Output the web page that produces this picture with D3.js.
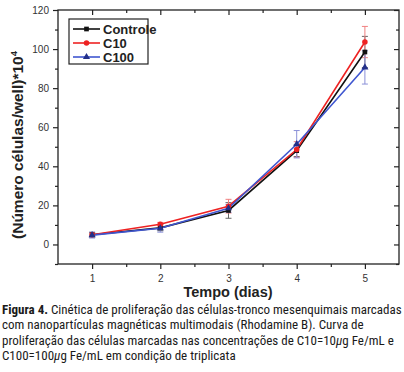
<!DOCTYPE html>
<html><head><meta charset="utf-8">
<script src="https://cdn.jsdelivr.net/npm/d3@7"></script>
<style>
body{margin:0;background:#fff;}
svg{display:block;}
</style></head>
<body>
<svg id="c" width="404" height="372"></svg>
<script>
const days = [1, 2, 3, 4, 5];
const seriesNames = ["Controle", "C10", "C100"];
const controle = [5.0, 8.5, 17.4, 48.0, 98.5];
const controleErr = [1.2, 1.5, 4.0, 3.0, 8.0];
const c10 = [5.0, 10.3, 19.6, 48.6, 103.6];
const c10Err = [1.0, 1.0, 3.5, 4.0, 8.0];
const c100 = [4.8, 8.3, 18.5, 51.3, 90.6];
const c100Err = [1.5, 2.0, 2.0, 7.0, 8.5];
const yTicks = [0, 20, 40, 60, 80, 100, 120];
const xTicks = [1, 2, 3, 4, 5];

const svg = d3.select("#c");
const L = 58, R = 399, T = 10, B = 264;
const x = d3.scaleLinear().domain([0.5, 5.5]).range([L, R]);
const y = d3.scaleLinear().domain([-10, 120]).range([B, T]);
const axisFont = "Liberation Sans, Arial, sans-serif";

// frame
svg.append("rect").attr("x", L).attr("y", T).attr("width", R - L).attr("height", B - T)
  .attr("fill", "none").attr("stroke", "#222").attr("stroke-width", 1.3);

// bottom axis
svg.append("g").attr("transform", `translate(0,${B})`)
  .call(d3.axisBottom(x).tickValues(xTicks).tickSize(5).tickPadding(6).tickFormat(d3.format("d")));
svg.append("g").attr("transform", `translate(0,${B})`)
  .call(d3.axisBottom(x).tickValues([1.5, 2.5, 3.5, 4.5]).tickSize(3).tickFormat(""));
// top mirror (inward)
svg.append("g").attr("transform", `translate(0,${T})`)
  .call(d3.axisBottom(x).tickValues(xTicks).tickSize(5).tickFormat(""));
svg.append("g").attr("transform", `translate(0,${T})`)
  .call(d3.axisBottom(x).tickValues([1.5, 2.5, 3.5, 4.5]).tickSize(3).tickFormat(""));
// left axis
svg.append("g").attr("transform", `translate(${L},0)`)
  .call(d3.axisLeft(y).tickValues(yTicks).tickSize(5).tickPadding(4));
svg.append("g").attr("transform", `translate(${L},0)`)
  .call(d3.axisLeft(y).tickValues([-10, 10, 30, 50, 70, 90, 110]).tickSize(3).tickFormat(""));
// right mirror (inward)
svg.append("g").attr("transform", `translate(${R},0)`)
  .call(d3.axisLeft(y).tickValues(yTicks).tickSize(5).tickFormat(""));
svg.append("g").attr("transform", `translate(${R},0)`)
  .call(d3.axisLeft(y).tickValues([-10, 10, 30, 50, 70, 90, 110]).tickSize(3).tickFormat(""));

svg.selectAll(".domain").remove();
svg.selectAll(".tick line").attr("stroke", "#222").attr("stroke-width", 1.2);
svg.selectAll(".tick text").attr("fill", "#333").style("font-family", axisFont).style("font-size", "10px");

// axis titles
svg.append("text").attr("x", 228).attr("y", 297).attr("text-anchor", "middle")
  .style("font-family", axisFont).style("font-size", "14.5px").style("font-weight", "bold")
  .attr("fill", "#222").text("Tempo (dias)");
const yt = svg.append("text").attr("transform", `translate(23,145) rotate(-90)`).attr("text-anchor", "middle")
  .style("font-family", axisFont).style("font-size", "15.5px").style("font-weight", "bold").attr("fill", "#222");
yt.append("tspan").text("(Número células/well)*10");
yt.append("tspan").attr("dy", -6).style("font-size", "9.5px").text("4");

// series
const series = [
  {name: seriesNames[0], v: controle, e: controleErr, color: "#111111", errColor: "#666", sym: d3.symbolSquare, symSize: 22},
  {name: seriesNames[1], v: c10, e: c10Err, color: "#ee2222", errColor: "#f08080", sym: d3.symbolCircle, symSize: 24},
  {name: seriesNames[2], v: c100, e: c100Err, color: "#3f56d0", errColor: "#8a90d8", sym: d3.symbolTriangle, symSize: 22, markColor: "#23308a"}
];
const line = d3.line().x((d, i) => x(days[i])).y(d => y(d));
series.forEach(s => {
  const g = svg.append("g");
  s.v.forEach((v, i) => {
    const cx = x(days[i]);
    g.append("line").attr("x1", cx).attr("x2", cx).attr("y1", y(v - s.e[i])).attr("y2", y(v + s.e[i]))
      .attr("stroke", s.errColor).attr("stroke-width", 1);
    [v - s.e[i], v + s.e[i]].forEach(w => g.append("line").attr("x1", cx - 3).attr("x2", cx + 3)
      .attr("y1", y(w)).attr("y2", y(w)).attr("stroke", s.errColor).attr("stroke-width", 1));
  });
});
series.forEach(s => {
  svg.append("path").datum(s.v).attr("d", line).attr("fill", "none")
    .attr("stroke", s.color).attr("stroke-width", 1.6);
});
series.forEach(s => {
  svg.append("g").selectAll("path").data(s.v).join("path")
    .attr("transform", (d, i) => `translate(${x(days[i])},${y(d)})`)
    .attr("d", d3.symbol().type(s.sym).size(s.symSize))
    .attr("fill", s.markColor || s.color);
});

// legend
const lg = svg.append("g");
lg.append("rect").attr("x", 69).attr("y", 19).attr("width", 79).attr("height", 45)
  .attr("fill", "#fff").attr("stroke", "#222").attr("stroke-width", 1.2);
series.forEach((s, i) => {
  const ly = 29 + i * 14;
  lg.append("line").attr("x1", 73).attr("x2", 100).attr("y1", ly).attr("y2", ly)
    .attr("stroke", s.color).attr("stroke-width", 1.6);
  lg.append("path").attr("transform", `translate(86.5,${ly})`)
    .attr("d", d3.symbol().type(s.sym).size(s.symSize)).attr("fill", s.markColor || s.color);
  lg.append("text").attr("x", 103).attr("y", ly + 4.5).style("font-family", axisFont)
    .style("font-size", "13px").style("font-weight", "bold").attr("fill", "#222").text(s.name);
});

// caption
const capFont = "Liberation Sans Narrow, Arial Narrow, Roboto Condensed, sans-serif";
const capLines = [
  [["Figura 4.", true], [" Cinética de proliferação das células-tronco mesenquimais marcadas", false]],
  [["com nanopartículas magnéticas multimodais (Rhodamine B). Curva de", false]],
  [["proliferação das células marcadas nas concentrações de C10=10", false], ["μ", false, true], ["g Fe/mL e", false]],
  [["C100=100", false], ["μ", false, true], ["g Fe/mL em condição de triplicata", false]]
];
capLines.forEach((ln, i) => {
  const t = svg.append("text").attr("x", 2).attr("y", 314 + i * 15.3)
    .style("font-family", capFont).style("font-size", "13px").attr("fill", "#1a1a1a");
  ln.forEach(p => {
    const ts = t.append("tspan").text(p[0]);
    if (p[1]) ts.style("font-weight", "bold");
    if (p[2]) ts.style("font-style", "italic");
  });
});
</script>
</body></html>
